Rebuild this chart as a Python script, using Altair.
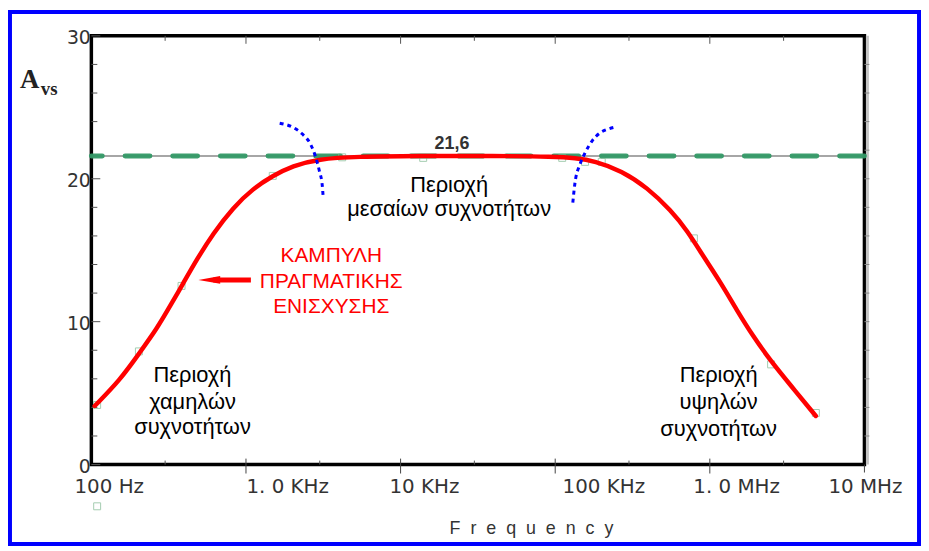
import altair as alt
import pandas as pd

# ---------------- data ----------------
CURVE_FREQ = [105, 153, 206, 265, 321, 394, 478, 614, 826, 1110, 1490, 2000, 2940,
              5220, 12700, 41000, 100000, 134000, 180000, 269000, 394000, 562000,
              712000, 916000, 1180000, 1490000, 1910000, 2460000, 3300000, 4850000]
CURVE_GAIN = [4.1, 5.9, 7.85, 9.5, 11.04, 12.71, 14.31, 16.18, 17.99, 19.31, 20.21,
              20.9, 21.39, 21.55, 21.6, 21.6, 21.55, 21.45, 21.25, 20.56, 19.38, 17.78,
              16.39, 14.51, 12.71, 10.83, 8.96, 7.3, 5.6, 3.4]

MARK_FREQ = [109, 203, 383, 1490, 4190, 14000, 111000, 156000, 200000, 789000,
             2490000, 4850000, 109]
MARK_GAIN = [4.17, 7.92, 12.5, 20.2, 21.5, 21.46, 21.46, 21.18, 21.18, 15.83, 7.01,
             3.61, -2.92]

MIDBAND_GAIN = 21.6
MIDBAND_LABEL = "21,6"
MIDBAND_LABEL_POS = (21500, 22.08)

ARC_LEFT_FREQ = [1652, 2000, 2317, 2611, 2812, 2981, 3116, 3162]
ARC_LEFT_GAIN = [23.89, 23.61, 23.13, 22.43, 21.58, 20.56, 19.51, 18.61]
ARC_RIGHT_FREQ = [130000, 134000, 145000, 156000, 173000, 194000, 219000, 243000]
ARC_RIGHT_GAIN = [18.33, 19.65, 21.04, 21.81, 22.64, 23.19, 23.47, 23.61]

REGION_TEXT = ["Περιοχή", "μεσαίων συχνοτήτων",
               "Περιοχή", "χαμηλών", "συχνοτήτων",
               "Περιοχή", "υψηλών", "συχνοτήτων"]
REGION_FREQ = [20600, 20600, 451, 451, 451, 1140000, 1140000, 1140000]
REGION_GAIN = [19.10, 17.36, 5.76, 3.89, 2.15, 5.76, 3.89, 2.01]

NOTE_TEXT = ["ΚΑΜΠΥΛΗ", "ΠΡΑΓΜΑΤΙΚΗΣ", "ΕΝΙΣΧΥΣΗΣ"]
NOTE_FREQ = [3560, 3560, 3560]
NOTE_GAIN = [14.17, 12.36, 10.63]

ARROW_FREQ = [614, 1076]
ARROW_GAIN = [12.92, 12.92]
ARROW_HEAD_FREQ = [579]
ARROW_HEAD_GAIN = [12.92]

Y_TICKS = [0, 10, 20, 30]
Y_MINOR = [2, 4, 6, 8, 12, 14, 16, 18, 24, 26, 28]
Y_RIGHT = [2, 4, 6, 8, 10, 12, 14, 16, 18, 20, 22, 24, 26, 28]
X_TICK_FREQ = [100, 1000, 10000, 100000, 1000000, 10000000]
X_TICK_LABELS = ["100 Hz", "1. 0 KHz", "10 KHz", "100 KHz", "1. 0 MHz", "10 MHz"]
X_MAJOR_INNER = [1000, 10000, 100000, 1000000]
X_MINOR = [300, 3000, 30000, 300000, 3000000]
X_TITLE = "Frequency"

# ---------------- styling ----------------
X_LABEL_DX = [18, 42, 24, 49, 27, 1]
W, H = 779, 432
XS = alt.Scale(type="log", domain=[100, 10000000], nice=False)
YS = alt.Scale(domain=[0, 30], nice=False, zero=False)

title_spaced = "\u00a0\u00a0".join(X_TITLE)

X_AXIS = alt.Axis(
    labels=False, ticks=False, domain=False, grid=False, title=title_spaced,
    titleFont="Liberation Sans", titleFontSize=18, titleFontWeight="normal",
    titleColor="#333333", titleX=443, titleY=69, titleBaseline="alphabetic",
    titleAlign="center")
Y_AXIS = alt.Axis(
    values=Y_TICKS, ticks=False, tickSize=0, domain=False, grid=False,
    labelFont="DejaVu Sans", labelFontSize=19, labelColor="#333333",
    labelPadding=1, labelOffset=2, title="")


def X(**kw):
    return alt.X("f:Q", scale=XS, axis=X_AXIS, **kw)


def Y(**kw):
    return alt.Y("g:Q", scale=YS, axis=Y_AXIS, **kw)


curve_df = pd.DataFrame({"f": CURVE_FREQ, "g": CURVE_GAIN})
mark_df = pd.DataFrame({"f": MARK_FREQ, "g": MARK_GAIN})
arc_df = pd.DataFrame({
    "f": ARC_LEFT_FREQ + ARC_RIGHT_FREQ,
    "g": ARC_LEFT_GAIN + ARC_RIGHT_GAIN,
    "s": ["L"] * len(ARC_LEFT_FREQ) + ["R"] * len(ARC_RIGHT_FREQ),
})
one = pd.DataFrame({"k": [0]})

layers = []

# curve first so that its axes define the chart's axes
curve = alt.Chart(curve_df).mark_line(
    color="#ff0000", strokeWidth=4.5, interpolate="basis", strokeCap="round"
).encode(x=X(), y=Y())

# markers (drawn under the curve)
markers = alt.Chart(mark_df).mark_point(
    shape="square", filled=False, size=49, color="#7fb890", strokeWidth=1).encode(
    x=X(), y=Y())

# border
layers.append(alt.Chart(one).mark_rect(fillOpacity=0, stroke="#0000ff", strokeWidth=4).encode(
    x=alt.value(-82), x2=alt.value(834), y=alt.value(-24), y2=alt.value(512)))

# right shadow
layers.append(alt.Chart(one).mark_rule(color="#c4c4c4", strokeWidth=3).encode(
    x=alt.value(W + 3), y=alt.value(0), y2=alt.value(H)))

# ticks
ymaj = pd.DataFrame({"g": Y_TICKS})
ymin = pd.DataFrame({"g": Y_MINOR})
yr = pd.DataFrame({"g": Y_RIGHT})
xmaj = pd.DataFrame({"f": X_MAJOR_INNER})
xmin = pd.DataFrame({"f": X_MINOR})
layers.append(alt.Chart(ymaj).mark_rule(color="#555555", strokeWidth=1).encode(
    y=Y(), x=alt.value(0), x2=alt.value(9)))
layers.append(alt.Chart(ymin).mark_rule(color="#555555", strokeWidth=1).encode(
    y=Y(), x=alt.value(0), x2=alt.value(6)))
layers.append(alt.Chart(yr).mark_rule(color="#888888", strokeWidth=1).encode(
    y=Y(), x=alt.value(W), x2=alt.value(W + 5)))
layers.append(alt.Chart(xmaj).mark_rule(color="#555555", strokeWidth=1).encode(
    x=X(), y=alt.value(0), y2=alt.value(8)))
layers.append(alt.Chart(xmin).mark_rule(color="#555555", strokeWidth=1).encode(
    x=X(), y=alt.value(0), y2=alt.value(5)))
layers.append(alt.Chart(xmaj).mark_rule(color="#444444", strokeWidth=1).encode(
    x=X(), y=alt.value(H - 6), y2=alt.value(H + 9)))
layers.append(alt.Chart(pd.DataFrame({"f": [X_TICK_FREQ[-1]]})).mark_rule(
    color="#444444", strokeWidth=1).encode(x=X(), y=alt.value(H), y2=alt.value(H + 8)))
layers.append(alt.Chart(xmin).mark_rule(color="#555555", strokeWidth=1).encode(
    x=X(), y=alt.value(H - 4), y2=alt.value(H)))

# mid-band level
lvl = pd.DataFrame({"g": [MIDBAND_GAIN]})
layers.append(alt.Chart(lvl).mark_rule(color="#888888", strokeWidth=1.5).encode(y=Y()))
layers.append(alt.Chart(lvl).mark_rule(
    color="#339966", strokeWidth=5, strokeDash=[25, 23], strokeCap="round",
    opacity=0.95).encode(y=Y()))

layers.append(markers)
layers.append(curve)

# blue dotted arcs
layers.append(alt.Chart(arc_df).mark_line(
    color="#0000ff", strokeWidth=3, strokeDash=[4, 4], interpolate="monotone").encode(
    x=X(), y=Y(), detail="s:N"))

# midband label
layers.append(alt.Chart(pd.DataFrame({"f": [MIDBAND_LABEL_POS[0]], "g": [MIDBAND_LABEL_POS[1]],
                                      "t": [MIDBAND_LABEL]})).mark_text(
    font="Liberation Sans", fontSize=18, fontWeight="bold", color="#333333",
    align="center", baseline="alphabetic").encode(x=X(), y=Y(), text="t:N"))

# region texts
layers.append(alt.Chart(pd.DataFrame({"f": REGION_FREQ, "g": REGION_GAIN, "t": REGION_TEXT})).mark_text(
    font="Liberation Sans", fontSize=22, color="#000000", align="center",
    baseline="alphabetic").encode(x=X(), y=Y(), text="t:N"))

# red note
layers.append(alt.Chart(pd.DataFrame({"f": NOTE_FREQ, "g": NOTE_GAIN, "t": NOTE_TEXT})).mark_text(
    font="Liberation Sans", fontSize=21, color="#ff0000", align="center",
    baseline="alphabetic").encode(x=X(), y=Y(), text="t:N"))

# arrow
layers.append(alt.Chart(pd.DataFrame({"f": ARROW_FREQ, "g": ARROW_GAIN})).mark_line(
    color="#ff0000", strokeWidth=5).encode(x=X(), y=Y()))
layers.append(alt.Chart(pd.DataFrame({"f": ARROW_HEAD_FREQ, "g": ARROW_HEAD_GAIN})).mark_point(
    shape="M-1,0L1,-0.36L1,0.36Z", size=484, filled=True, color="#ff0000", opacity=1).encode(
    x=X(), y=Y()))

# x tick labels
for i, (fq, lab) in enumerate(zip(X_TICK_FREQ, X_TICK_LABELS)):
    layers.append(alt.Chart(pd.DataFrame({"f": [fq], "t": [lab]})).mark_text(
        font="DejaVu Sans", fontSize=20, color="#333333", align="center",
        baseline="middle", dx=X_LABEL_DX[i]).encode(x=X(), y=alt.value(H + 23), text="t:N"))

# y title  A_vs
layers.append(alt.Chart(pd.DataFrame({"t": ["A"]})).mark_text(
    font="Liberation Serif", fontSize=27, fontWeight="bold", color="#222222",
    align="left", baseline="alphabetic").encode(x=alt.value(-72), y=alt.value(53), text="t:N"))
layers.append(alt.Chart(pd.DataFrame({"t": ["vs"]})).mark_text(
    font="Liberation Serif", fontSize=19, fontWeight="bold", color="#222222",
    align="left", baseline="alphabetic").encode(x=alt.value(-51), y=alt.value(60), text="t:N"))

chart = alt.layer(*layers).properties(
    width=W, height=H,
    padding={"left": 84, "top": 26, "right": 57, "bottom": 82},
    autosize=alt.AutoSizeParams(type="none"),
    background="white",
).configure_view(stroke="black", strokeWidth=3.5)

chart.save("out.html", embed_options={"renderer": "svg", "actions": False})
